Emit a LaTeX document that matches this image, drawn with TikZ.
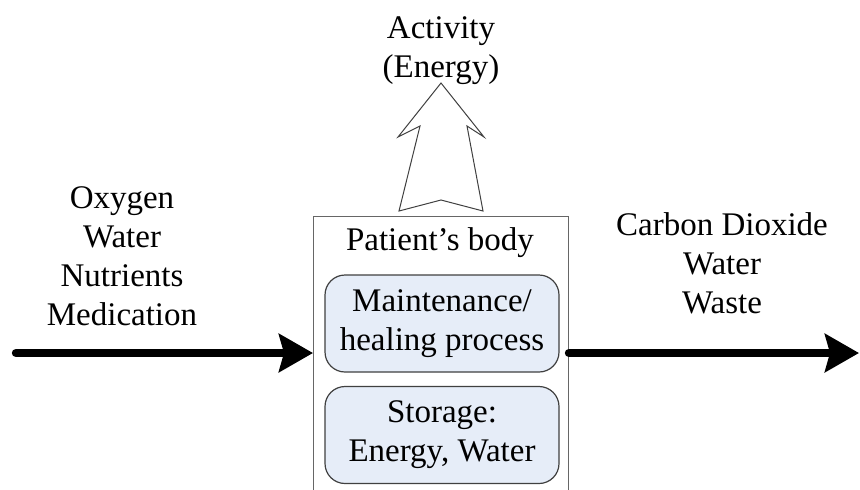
\documentclass[tikz,border=0pt]{standalone}
\usepackage{fontspec}
\setmainfont{Liberation Serif}
\usetikzlibrary{arrows.meta, positioning}

\definecolor{procblue}{RGB}{230,237,248}

\begin{document}
\begin{tikzpicture}[x=0.5pt, y=-0.5pt,
    every node/.style={font=\fontsize{16.5}{19.5}\selectfont, inner sep=0pt},
    words/.style={align=center},
    proc/.style={draw=black!75, fill=procblue, line width=0.6pt, rounded corners=10pt,
                 minimum width=117pt, minimum height=48.5pt, align=center},
    flow/.style={line width=4.2pt, line cap=round, -{Stealth[length=17pt, width=19pt, inset=2.5pt]}}]
    \useasboundingbox (0,0) rectangle (860,489);

    % the body, cut off at the bottom
    \node[draw=black!60, line width=0.5pt, anchor=north west,
          minimum width=127.5pt, minimum height=150pt] (body) at (313,216) {};
    \node[anchor=base] (bodyname) at (440,250) {Patient's body};
    \node[proc] (upkeep) at (442,323.5) {Maintenance/\\healing process};
    \node[proc] (store) at (442,435) {Storage:\\Energy, Water};

    % what goes in and out
    \node[words] (inputs) at (122,256) {Oxygen\\Water\\Nutrients\\Medication};
    \node[words] (outputs) at (722,263) {Carbon Dioxide\\Water\\Waste};
    \node[words] (activity) at (441,51) {Activity\\(Energy)};

    \coordinate (in) at (16,353);
    \coordinate (out) at (859,353);
    \draw[flow] (in) -- (in -| body.west);
    \draw[flow] (in -| body.east) -- (out);

    % hollow arrow up to the activity
    \coordinate (up) at ([yshift=2.5pt]body.north);
    \draw[black!75, line width=0.5pt, fill=white, shift={(up)}]
        (-42,0) -- (0,-11) -- (42,0) -- (26,-85) -- (43,-74) -- (0,-128)
        -- (-43,-74) -- (-21,-85) -- cycle;
\end{tikzpicture}
\end{document}
